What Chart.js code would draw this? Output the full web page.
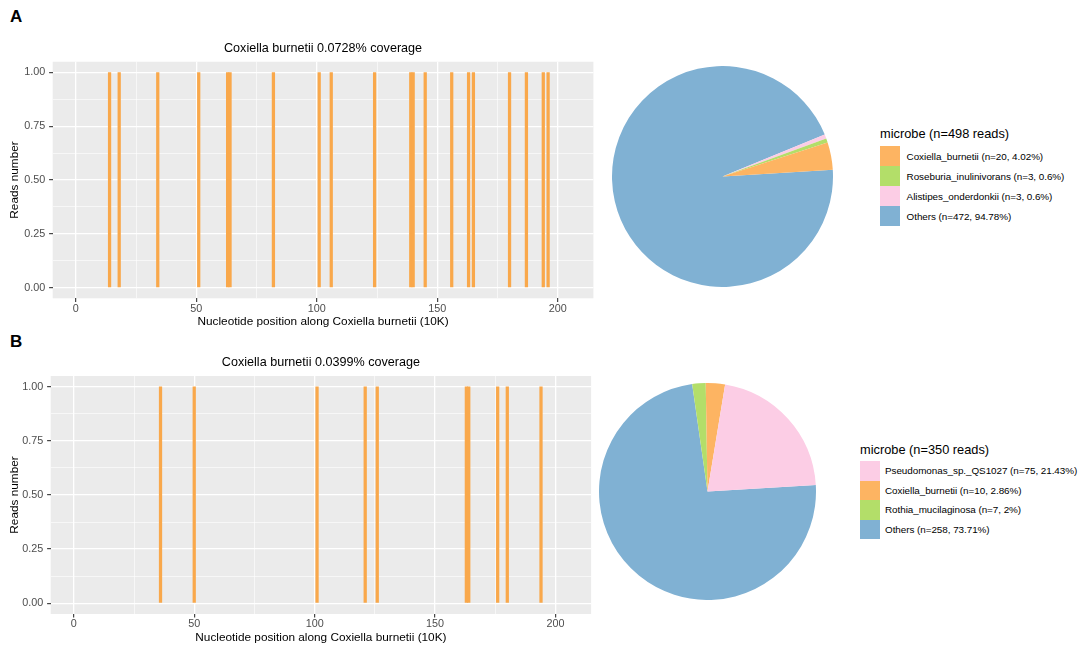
<!DOCTYPE html>
<html>
<head>
<meta charset="utf-8">
<script src="https://cdn.jsdelivr.net/npm/chart.js@4.4.1/dist/chart.umd.min.js"></script>
<style>
    body { margin: 0; background: #fff; font-family: "Liberation Sans", Arial, sans-serif; }
    #page { position: relative; width: 1084px; height: 654px; overflow: hidden; background: #fff; }
    .abs { position: absolute; }
    .panel-tag { position: absolute; font-weight: bold; font-size: 17px; line-height: 17px; color: #000; }
    .legend { position: absolute; color: #000; white-space: nowrap; }
    .legend-title { font-size: 12.8px; }
    .legend-row { display: flex; align-items: center; }
    .legend-key { flex: none; }
    .legend-text { font-size: 9.9px; letter-spacing: -0.05px; }
</style>
</head>
<body>
<div id="page">
    <div class="panel-tag" style="left:10px; top:8px;">A</div>
    <div class="panel-tag" style="left:10px; top:333px;">B</div>

    <div class="abs" style="left:0; top:0;"><canvas id="coverage-a" width="600" height="330"></canvas></div>
    <div class="abs" style="left:0; top:330px;"><canvas id="coverage-b" width="600" height="324"></canvas></div>

    <div class="abs" style="left:612px; top:65.5px;"><canvas id="pie-a" width="221" height="221"></canvas></div>
    <div class="abs" style="left:598.5px; top:383px;"><canvas id="pie-b" width="217" height="217"></canvas></div>

    <div class="legend" id="legend-a"></div>
    <div class="legend" id="legend-b"></div>
</div>

<script>
// --- datos ---
const xMajor = [0, 50, 100, 150, 200];
const xMinor = [25, 75, 125, 175];
const yMajor = [0, 0.25, 0.5, 0.75, 1];
const yMinor = [0.125, 0.375, 0.625, 0.875];

// read positions (x 10K) for each sample
const readsA = [14, 18, 34, 51, 63, 64, 82, 101, 106, 124, 139, 140, 145, 156, 163, 165, 180, 187, 194, 196];
const readsB = [36, 50, 101, 121, 126, 163, 164, 176, 180, 194];

const titleA = 'Coxiella burnetii 0.0728% coverage';
const titleB = 'Coxiella burnetii 0.0399% coverage';
const xTitle = 'Nucleotide position along Coxiella burnetii (10K)';
const yTitle = 'Reads number';

const microbesA = ['Coxiella_burnetii', 'Roseburia_inulinivorans', 'Alistipes_onderdonkii', 'Others'];
const countsA = [20, 3, 3, 472];
const colorsA = ['#fdb462', '#b3de69', '#fccde5', '#80b1d3'];

const microbesB = ['Pseudomonas_sp._QS1027', 'Coxiella_burnetii', 'Rothia_mucilaginosa', 'Others'];
const countsB = [75, 10, 7, 258];
const colorsB = ['#fccde5', '#fdb462', '#b3de69', '#80b1d3'];

const readColor = '#f9a84b';
const xMin = -9.6, xMax = 214.8;
const yMin = -0.05, yMax = 1.05;

Chart.defaults.font.family = '"Liberation Sans", Arial, sans-serif';

// gray panel like ggplot
const panelBackground = {
    id: 'panelBackground',
    beforeDraw(chart) {
        const { ctx, chartArea: a } = chart;
        ctx.save();
        ctx.fillStyle = '#ebebeb';
        ctx.fillRect(a.left, a.top, a.right - a.left, a.bottom - a.top);
        ctx.restore();
    }
};

const sortNum = arr => arr.slice().sort((a, b) => a - b);

function gridOpts(major) {
    const isMajor = ctx => ctx.tick && major.includes(ctx.tick.value);
    return {
        color: '#ffffff',
        lineWidth: ctx => isMajor(ctx) ? 1.3 : 0.6,
        tickColor: ctx => isMajor(ctx) ? '#333333' : 'rgba(0,0,0,0)',
        tickLength: 3.6,
        tickWidth: 1.1,
        offset: false
    };
}

function coverageChart(canvas, reads, titleText, g) {
    new Chart(canvas, {
        type: 'bar',
        data: {
            datasets: [{
                data: reads.map(p => ({ x: p, y: 1 })),
                backgroundColor: readColor,
                borderWidth: 0,
                barThickness: 2.6
            }]
        },
        options: {
            responsive: false,
            animation: false,
            layout: { padding: { left: 0, right: g.padRight, top: 0, bottom: 0 } },
            plugins: {
                legend: { display: false },
                tooltip: { enabled: false },
                title: {
                    display: true,
                    text: titleText,
                    fullSize: false,
                    color: '#000',
                    font: { size: 12.6, weight: 'normal' },
                    padding: { top: g.titleTop, bottom: g.titleBottom }
                }
            },
            scales: {
                x: {
                    type: 'linear',
                    min: xMin,
                    max: xMax,
                    offset: false,
                    border: { display: false },
                    grid: gridOpts(xMajor),
                    afterBuildTicks: s => { s.ticks = sortNum([...xMajor, ...xMinor]).map(v => ({ value: v })); },
                    afterFit: s => { s.height = g.xHeight; },
                    ticks: {
                        autoSkip: false,
                        maxRotation: 0,
                        padding: 0.3,
                        color: '#4d4d4d',
                        font: { size: 10.8 },
                        callback: v => xMajor.includes(v) ? String(v) : ''
                    },
                    title: {
                        display: true,
                        text: xTitle,
                        color: '#000',
                        font: { size: 11.8 },
                        padding: { top: 0, bottom: g.xTitleBottom }
                    }
                },
                y: {
                    type: 'linear',
                    min: yMin,
                    max: yMax,
                    border: { display: false },
                    grid: gridOpts(yMajor),
                    afterBuildTicks: s => { s.ticks = sortNum([...yMajor, ...yMinor]).map(v => ({ value: v })); },
                    afterFit: s => { s.width = g.yWidth; },
                    ticks: {
                        autoSkip: false,
                        padding: 3.8,
                        color: '#4d4d4d',
                        font: { size: 10.8 },
                        callback: v => yMajor.includes(v) ? v.toFixed(2) : ''
                    },
                    title: {
                        display: true,
                        text: yTitle,
                        color: '#000',
                        font: { size: 11.8 },
                        padding: { top: g.yTitleLeft, bottom: 0 }
                    }
                }
            }
        },
        plugins: [panelBackground]
    });
}

function pieChart(canvas, counts, colors) {
    // ggplot goes counter-clockwise in legend order, Chart.js goes clockwise -> reverse
    new Chart(canvas, {
        type: 'pie',
        data: {
            labels: counts.map((c, i) => i).reverse(),
            datasets: [{
                data: counts.slice().reverse(),
                backgroundColor: colors.slice().reverse(),
                borderWidth: 0
            }]
        },
        options: {
            responsive: false,
            animation: false,
            rotation: 86.5,
            layout: { padding: 0 },
            plugins: { legend: { display: false }, tooltip: { enabled: false } }
        }
    });
}

function buildLegend(el, names, counts, colors, g) {
    const total = counts.reduce((a, b) => a + b, 0);
    el.style.left = g.left + 'px';
    el.style.top = (g.rowTop - g.titleH) + 'px';
    let html = `<div class="legend-title" style="height:${g.titleH}px; line-height:${g.titleH}px;">microbe (n=${total} reads)</div>`;
    names.forEach((name, i) => {
        const pct = Math.round(counts[i] / total * 10000) / 100;
        html += `
        <div class="legend-row" style="height:${g.row}px;">
            <div class="legend-key" style="width:${g.key}px; height:${g.row}px; background:${colors[i]}"></div>
            <span class="legend-text" style="margin-left:${g.gap}px;">${name} (n=${counts[i]}, ${pct}%)</span>
        </div>`;
    });
    el.innerHTML = html;
}

coverageChart(document.getElementById('coverage-a'), readsA, titleA, {
    padRight: 6.6, yWidth: 52.7, xHeight: 31.7,
    titleTop: 40.9, titleBottom: 5.7, xTitleBottom: 1.3, yTitleLeft: 8
});
coverageChart(document.getElementById('coverage-b'), readsB, titleB, {
    padRight: 8.9, yWidth: 50.7, xHeight: 40,
    titleTop: 24.7, titleBottom: 6.2, xTitleBottom: 8.7, yTitleLeft: 8
});

pieChart(document.getElementById('pie-a'), countsA, colorsA);
pieChart(document.getElementById('pie-b'), countsB, colorsB);

buildLegend(document.getElementById('legend-a'), microbesA, countsA, colorsA,
    { left: 880, rowTop: 146, titleH: 24, row: 20, key: 20, gap: 6.6 });
buildLegend(document.getElementById('legend-b'), microbesB, countsB, colorsB,
    { left: 860, rowTop: 461, titleH: 23.4, row: 19.6, key: 19.5, gap: 5.5 });
</script>
</body>
</html>
